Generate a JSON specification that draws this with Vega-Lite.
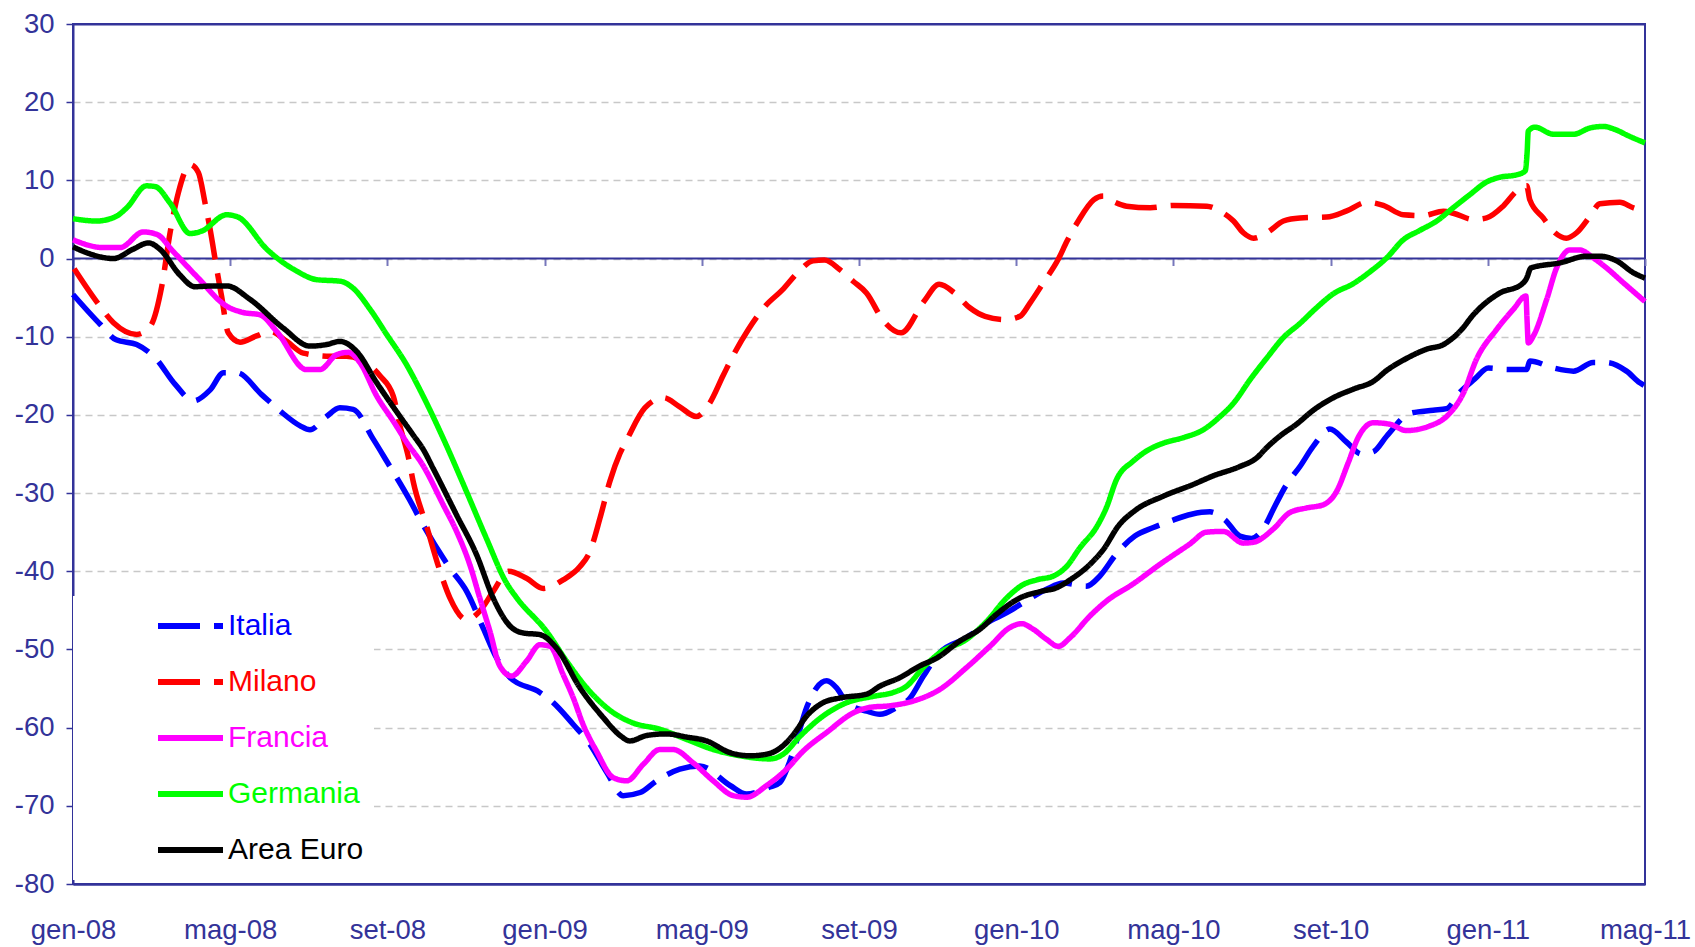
{
"$schema": "https://vega.github.io/schema/vega-lite/v6.json",
"width": 1572,
"height": 860,
"autosize": "none",
"padding": {"left": 73, "top": 24, "right": 50, "bottom": 63},
"background": "white",
"config": {"view": {"stroke": "#333399", "strokeWidth": 2}, "font": "Liberation Sans"},
"data": {"values": [
{"serie":"Italia","mese":0,"valore":-4.6},{"serie":"Italia","mese":0.69,"valore":-8.4},{"serie":"Italia","mese":1.1,"valore":-10.4},{"serie":"Italia","mese":1.62,"valore":-11},{"serie":"Italia","mese":2.09,"valore":-12.7},{"serie":"Italia","mese":2.6,"valore":-16.1},{"serie":"Italia","mese":3.06,"valore":-18.2},{"serie":"Italia","mese":3.49,"valore":-16.8},{"serie":"Italia","mese":3.83,"valore":-14.6},{"serie":"Italia","mese":4.17,"valore":-14.6},{"serie":"Italia","mese":4.8,"valore":-17.4},{"serie":"Italia","mese":5.27,"valore":-19.5},{"serie":"Italia","mese":5.78,"valore":-21.4},{"serie":"Italia","mese":6.03,"valore":-21.9},{"serie":"Italia","mese":6.45,"valore":-20.2},{"serie":"Italia","mese":6.79,"valore":-19.1},{"serie":"Italia","mese":7.13,"valore":-19.3},{"serie":"Italia","mese":7.64,"valore":-23.1},{"serie":"Italia","mese":7.98,"valore":-25.9},{"serie":"Italia","mese":8.57,"valore":-30.9},{"serie":"Italia","mese":8.91,"valore":-34.1},{"serie":"Italia","mese":9.59,"valore":-39.6},{"serie":"Italia","mese":10.02,"valore":-42.6},{"serie":"Italia","mese":10.44,"valore":-47.3},{"serie":"Italia","mese":10.78,"valore":-51.1},{"serie":"Italia","mese":11.12,"valore":-53.6},{"serie":"Italia","mese":11.88,"valore":-55.5},{"serie":"Italia","mese":12.22,"valore":-56.8},{"serie":"Italia","mese":12.73,"valore":-59.6},{"serie":"Italia","mese":13.15,"valore":-62.1},{"serie":"Italia","mese":13.58,"valore":-65.7},{"serie":"Italia","mese":14,"valore":-68.7},{"serie":"Italia","mese":14.43,"valore":-68.3},{"serie":"Italia","mese":14.85,"valore":-66.8},{"serie":"Italia","mese":15.44,"valore":-65.3},{"serie":"Italia","mese":15.95,"valore":-64.9},{"serie":"Italia","mese":16.72,"valore":-67.4},{"serie":"Italia","mese":17.14,"valore":-68.5},{"serie":"Italia","mese":17.73,"valore":-67.6},{"serie":"Italia","mese":17.99,"valore":-67},{"serie":"Italia","mese":18.33,"valore":-63},{"serie":"Italia","mese":18.67,"valore":-57.4},{"serie":"Italia","mese":18.92,"valore":-54.9},{"serie":"Italia","mese":19.18,"valore":-54},{"serie":"Italia","mese":19.43,"valore":-54.9},{"serie":"Italia","mese":19.69,"valore":-56.8},{"serie":"Italia","mese":20.2,"valore":-57.9},{"serie":"Italia","mese":20.53,"valore":-58.3},{"serie":"Italia","mese":20.96,"valore":-57.4},{"serie":"Italia","mese":21.3,"valore":-56.2},{"serie":"Italia","mese":21.64,"valore":-53.4},{"serie":"Italia","mese":22.06,"valore":-50.4},{"serie":"Italia","mese":22.74,"valore":-48.5},{"serie":"Italia","mese":23.25,"valore":-46.6},{"serie":"Italia","mese":23.76,"valore":-45.3},{"serie":"Italia","mese":24.18,"valore":-44},{"serie":"Italia","mese":24.77,"valore":-42.3},{"serie":"Italia","mese":25.2,"valore":-41.5},{"serie":"Italia","mese":25.79,"valore":-41.9},{"serie":"Italia","mese":26.13,"valore":-40.6},{"serie":"Italia","mese":26.56,"valore":-37.7},{"serie":"Italia","mese":27.02,"valore":-35.5},{"serie":"Italia","mese":27.49,"valore":-34.4},{"serie":"Italia","mese":27.91,"valore":-33.6},{"serie":"Italia","mese":28.46,"valore":-32.7},{"serie":"Italia","mese":28.93,"valore":-32.4},{"serie":"Italia","mese":29.31,"valore":-33.4},{"serie":"Italia","mese":29.69,"valore":-35.5},{"serie":"Italia","mese":29.99,"valore":-35.8},{"serie":"Italia","mese":30.33,"valore":-34.2},{"serie":"Italia","mese":30.54,"valore":-32.1},{"serie":"Italia","mese":30.88,"valore":-28.9},{"serie":"Italia","mese":31.22,"valore":-26.6},{"serie":"Italia","mese":31.56,"valore":-24},{"serie":"Italia","mese":31.98,"valore":-21.8},{"serie":"Italia","mese":32.41,"valore":-23.5},{"serie":"Italia","mese":32.79,"valore":-25},{"serie":"Italia","mese":33.09,"valore":-24.7},{"serie":"Italia","mese":33.43,"valore":-22.7},{"serie":"Italia","mese":34.02,"valore":-19.8},{"serie":"Italia","mese":34.61,"valore":-19.4},{"serie":"Italia","mese":34.95,"valore":-19.2},{"serie":"Italia","mese":35.29,"valore":-17.1},{"serie":"Italia","mese":35.67,"valore":-15.4},{"serie":"Italia","mese":36.01,"valore":-14},{"serie":"Italia","mese":36.5,"valore":-14.2},{"serie":"Italia","mese":36.99,"valore":-14.2},{"serie":"Italia","mese":37.07,"valore":-13.1},{"serie":"Italia","mese":37.67,"valore":-14},{"serie":"Italia","mese":38.18,"valore":-14.4},{"serie":"Italia","mese":38.68,"valore":-13.3},{"serie":"Italia","mese":39.02,"valore":-13.3},{"serie":"Italia","mese":39.53,"valore":-14.4},{"serie":"Italia","mese":39.87,"valore":-15.9},{"serie":"Italia","mese":40,"valore":-16.3},
{"serie":"Milano","mese":0.03,"valore":-1.3},{"serie":"Milano","mese":0.6,"valore":-5.5},{"serie":"Milano","mese":1.03,"valore":-8.2},{"serie":"Milano","mese":1.62,"valore":-9.7},{"serie":"Milano","mese":1.96,"valore":-8.7},{"serie":"Milano","mese":2.26,"valore":-3.5},{"serie":"Milano","mese":2.47,"valore":3.3},{"serie":"Milano","mese":2.68,"valore":8.4},{"serie":"Milano","mese":2.98,"valore":12},{"serie":"Milano","mese":3.19,"valore":11},{"serie":"Milano","mese":3.36,"valore":7.1},{"serie":"Milano","mese":3.49,"valore":3.7},{"serie":"Milano","mese":3.66,"valore":-1.4},{"serie":"Milano","mese":3.78,"valore":-4.8},{"serie":"Milano","mese":3.95,"valore":-9.5},{"serie":"Milano","mese":4.25,"valore":-10.7},{"serie":"Milano","mese":4.67,"valore":-9.9},{"serie":"Milano","mese":5.01,"valore":-9.3},{"serie":"Milano","mese":5.44,"valore":-10.6},{"serie":"Milano","mese":5.86,"valore":-12.1},{"serie":"Milano","mese":6.54,"valore":-12.5},{"serie":"Milano","mese":6.96,"valore":-12.5},{"serie":"Milano","mese":7.3,"valore":-12.9},{"serie":"Milano","mese":7.81,"valore":-15},{"serie":"Milano","mese":8.15,"valore":-17.6},{"serie":"Milano","mese":8.32,"valore":-21.4},{"serie":"Milano","mese":8.53,"valore":-25.3},{"serie":"Milano","mese":8.66,"valore":-28.6},{"serie":"Milano","mese":8.99,"valore":-34.1},{"serie":"Milano","mese":9.34,"valore":-40},{"serie":"Milano","mese":9.59,"valore":-43.4},{"serie":"Milano","mese":10.02,"valore":-46.2},{"serie":"Milano","mese":10.35,"valore":-45.1},{"serie":"Milano","mese":10.69,"valore":-42.6},{"serie":"Milano","mese":11.08,"valore":-40},{"serie":"Milano","mese":11.54,"valore":-40.9},{"serie":"Milano","mese":11.97,"valore":-42.2},{"serie":"Milano","mese":12.47,"valore":-41.1},{"serie":"Milano","mese":12.9,"valore":-39.4},{"serie":"Milano","mese":13.15,"valore":-37.5},{"serie":"Milano","mese":13.41,"valore":-33.2},{"serie":"Milano","mese":13.66,"valore":-28.5},{"serie":"Milano","mese":13.92,"valore":-24.9},{"serie":"Milano","mese":14.1,"valore":-23.1},{"serie":"Milano","mese":14.55,"valore":-19.1},{"serie":"Milano","mese":15.03,"valore":-17.8},{"serie":"Milano","mese":15.42,"valore":-18.9},{"serie":"Milano","mese":15.86,"valore":-20.2},{"serie":"Milano","mese":16.2,"valore":-18.5},{"serie":"Milano","mese":16.54,"valore":-15},{"serie":"Milano","mese":16.83,"valore":-12.1},{"serie":"Milano","mese":17.18,"valore":-9.1},{"serie":"Milano","mese":17.61,"valore":-6.1},{"serie":"Milano","mese":18.05,"valore":-4},{"serie":"Milano","mese":18.44,"valore":-1.8},{"serie":"Milano","mese":18.83,"valore":-0.3},{"serie":"Milano","mese":19.12,"valore":-0.2},{"serie":"Milano","mese":19.51,"valore":-1.4},{"serie":"Milano","mese":19.85,"valore":-2.9},{"serie":"Milano","mese":20.19,"valore":-4.4},{"serie":"Milano","mese":20.63,"valore":-8},{"serie":"Milano","mese":21.07,"valore":-9.5},{"serie":"Milano","mese":21.65,"valore":-5.5},{"serie":"Milano","mese":22.04,"valore":-3.3},{"serie":"Milano","mese":22.43,"valore":-4.4},{"serie":"Milano","mese":22.82,"valore":-6.3},{"serie":"Milano","mese":23.21,"valore":-7.4},{"serie":"Milano","mese":23.7,"valore":-7.8},{"serie":"Milano","mese":24.09,"valore":-7.4},{"serie":"Milano","mese":24.35,"valore":-5.7},{"serie":"Milano","mese":24.69,"valore":-3.1},{"serie":"Milano","mese":25.07,"valore":-0.1},{"serie":"Milano","mese":25.29,"valore":2.2},{"serie":"Milano","mese":25.58,"valore":4.8},{"serie":"Milano","mese":25.97,"valore":7.5},{"serie":"Milano","mese":26.22,"valore":8},{"serie":"Milano","mese":26.47,"valore":7.3},{"serie":"Milano","mese":26.81,"valore":6.7},{"serie":"Milano","mese":27.41,"valore":6.5},{"serie":"Milano","mese":28,"valore":6.8},{"serie":"Milano","mese":28.85,"valore":6.7},{"serie":"Milano","mese":29.19,"valore":6.05},{"serie":"Milano","mese":29.53,"valore":4.8},{"serie":"Milano","mese":29.78,"valore":3.3},{"serie":"Milano","mese":30.04,"valore":2.6},{"serie":"Milano","mese":30.38,"valore":3.3},{"serie":"Milano","mese":30.8,"valore":4.8},{"serie":"Milano","mese":31.22,"valore":5.2},{"serie":"Milano","mese":31.9,"valore":5.3},{"serie":"Milano","mese":32.41,"valore":6.1},{"serie":"Milano","mese":32.92,"valore":7.2},{"serie":"Milano","mese":33.34,"valore":6.8},{"serie":"Milano","mese":33.85,"valore":5.6},{"serie":"Milano","mese":34.36,"valore":5.5},{"serie":"Milano","mese":34.87,"valore":6.05},{"serie":"Milano","mese":35.12,"valore":5.8},{"serie":"Milano","mese":35.63,"valore":5},{"serie":"Milano","mese":35.97,"valore":5.2},{"serie":"Milano","mese":36.39,"valore":6.7},{"serie":"Milano","mese":36.73,"valore":8.6},{"serie":"Milano","mese":36.99,"valore":9.3},{"serie":"Milano","mese":37.07,"valore":7.5},{"serie":"Milano","mese":37.41,"valore":5.2},{"serie":"Milano","mese":37.71,"valore":3.3},{"serie":"Milano","mese":38,"valore":2.6},{"serie":"Milano","mese":38.26,"valore":3.3},{"serie":"Milano","mese":38.6,"valore":5.4},{"serie":"Milano","mese":38.85,"valore":7},{"serie":"Milano","mese":39.36,"valore":7.2},{"serie":"Milano","mese":39.7,"valore":6.5},{"serie":"Milano","mese":40,"valore":6.05},
{"serie":"Francia","mese":0,"valore":2.4},{"serie":"Francia","mese":0.77,"valore":1.4},{"serie":"Francia","mese":1.2,"valore":1.4},{"serie":"Francia","mese":1.79,"valore":3.4},{"serie":"Francia","mese":2.13,"valore":3.1},{"serie":"Francia","mese":2.55,"valore":0.9},{"serie":"Francia","mese":3.15,"valore":-2.3},{"serie":"Francia","mese":3.91,"valore":-6.1},{"serie":"Francia","mese":4.33,"valore":-6.9},{"serie":"Francia","mese":4.76,"valore":-7.2},{"serie":"Francia","mese":5.18,"valore":-9.3},{"serie":"Francia","mese":5.94,"valore":-14.2},{"serie":"Francia","mese":6.28,"valore":-14.2},{"serie":"Francia","mese":6.71,"valore":-12.3},{"serie":"Francia","mese":7,"valore":-12},{"serie":"Francia","mese":7.3,"valore":-13.3},{"serie":"Francia","mese":7.73,"valore":-17.6},{"serie":"Francia","mese":8.15,"valore":-20.8},{"serie":"Francia","mese":8.49,"valore":-23.5},{"serie":"Francia","mese":8.91,"valore":-26.5},{"serie":"Francia","mese":9.42,"valore":-31.5},{"serie":"Francia","mese":9.76,"valore":-34.9},{"serie":"Francia","mese":10.1,"valore":-39.2},{"serie":"Francia","mese":10.35,"valore":-43.4},{"serie":"Francia","mese":10.61,"valore":-47.7},{"serie":"Francia","mese":10.86,"valore":-52.1},{"serie":"Francia","mese":11.16,"valore":-53.4},{"serie":"Francia","mese":11.54,"valore":-51.5},{"serie":"Francia","mese":11.88,"valore":-49.4},{"serie":"Francia","mese":12.14,"valore":-49.6},{"serie":"Francia","mese":12.47,"valore":-53.2},{"serie":"Francia","mese":12.73,"valore":-56.2},{"serie":"Francia","mese":12.98,"valore":-59.6},{"serie":"Francia","mese":13.32,"valore":-63},{"serie":"Francia","mese":13.75,"valore":-66.4},{"serie":"Francia","mese":14.09,"valore":-66.8},{"serie":"Francia","mese":14.51,"valore":-64.7},{"serie":"Francia","mese":14.93,"valore":-62.8},{"serie":"Francia","mese":15.27,"valore":-62.8},{"serie":"Francia","mese":15.78,"valore":-64.5},{"serie":"Francia","mese":16.29,"valore":-66.8},{"serie":"Francia","mese":16.8,"valore":-68.7},{"serie":"Francia","mese":17.14,"valore":-68.9},{"serie":"Francia","mese":17.65,"valore":-67.4},{"serie":"Francia","mese":18.16,"valore":-65.3},{"serie":"Francia","mese":18.58,"valore":-63},{"serie":"Francia","mese":19.18,"valore":-60.6},{"serie":"Francia","mese":19.86,"valore":-58.1},{"serie":"Francia","mese":20.28,"valore":-57.4},{"serie":"Francia","mese":20.79,"valore":-57.2},{"serie":"Francia","mese":21.38,"valore":-56.6},{"serie":"Francia","mese":22.06,"valore":-55.1},{"serie":"Francia","mese":22.74,"valore":-52.3},{"serie":"Francia","mese":23.33,"valore":-49.6},{"serie":"Francia","mese":23.84,"valore":-47.2},{"serie":"Francia","mese":24.14,"valore":-46.7},{"serie":"Francia","mese":24.43,"valore":-47.4},{"serie":"Francia","mese":24.77,"valore":-48.7},{"serie":"Francia","mese":25.07,"valore":-49.6},{"serie":"Francia","mese":25.37,"valore":-48.5},{"serie":"Francia","mese":25.88,"valore":-45.7},{"serie":"Francia","mese":26.3,"valore":-43.8},{"serie":"Francia","mese":26.98,"valore":-41.6},{"serie":"Francia","mese":27.66,"valore":-39.1},{"serie":"Francia","mese":28.42,"valore":-36.5},{"serie":"Francia","mese":28.84,"valore":-35},{"serie":"Francia","mese":29.27,"valore":-34.9},{"serie":"Francia","mese":29.78,"valore":-36.4},{"serie":"Francia","mese":30.03,"valore":-36.3},{"serie":"Francia","mese":30.54,"valore":-34.6},{"serie":"Francia","mese":30.96,"valore":-32.5},{"serie":"Francia","mese":31.39,"valore":-31.9},{"serie":"Francia","mese":31.81,"valore":-31.5},{"serie":"Francia","mese":32.15,"valore":-29.8},{"serie":"Francia","mese":32.45,"valore":-26.1},{"serie":"Francia","mese":32.7,"valore":-22.9},{"serie":"Francia","mese":33.09,"valore":-21},{"serie":"Francia","mese":33.51,"valore":-21.2},{"serie":"Francia","mese":33.93,"valore":-22},{"serie":"Francia","mese":34.53,"valore":-21.4},{"serie":"Francia","mese":34.95,"valore":-20.2},{"serie":"Francia","mese":35.38,"valore":-17.2},{"serie":"Francia","mese":35.71,"valore":-12.9},{"serie":"Francia","mese":36.22,"valore":-9.1},{"serie":"Francia","mese":36.65,"valore":-6.5},{"serie":"Francia","mese":36.97,"valore":-4.8},{"serie":"Francia","mese":37,"valore":-8},{"serie":"Francia","mese":37.03,"valore":-10.8},{"serie":"Francia","mese":37.16,"valore":-9.9},{"serie":"Francia","mese":37.5,"valore":-5.2},{"serie":"Francia","mese":37.75,"valore":-1.2},{"serie":"Francia","mese":38.09,"valore":1.1},{"serie":"Francia","mese":38.34,"valore":1.1},{"serie":"Francia","mese":38.68,"valore":0.1},{"serie":"Francia","mese":39.02,"valore":-1.2},{"serie":"Francia","mese":39.45,"valore":-3.1},{"serie":"Francia","mese":40,"valore":-5.5},
{"serie":"Germania","mese":0,"valore":5.1},{"serie":"Germania","mese":0.6,"valore":4.8},{"serie":"Germania","mese":1.1,"valore":5.4},{"serie":"Germania","mese":1.37,"valore":6.5},{"serie":"Germania","mese":1.87,"valore":9.3},{"serie":"Germania","mese":2.09,"valore":9.2},{"serie":"Germania","mese":2.47,"valore":7.1},{"serie":"Germania","mese":2.98,"valore":3.2},{"serie":"Germania","mese":3.27,"valore":3.5},{"serie":"Germania","mese":3.91,"valore":5.6},{"serie":"Germania","mese":4.2,"valore":5.3},{"serie":"Germania","mese":4.93,"valore":1.2},{"serie":"Germania","mese":5.69,"valore":-1.6},{"serie":"Germania","mese":6.2,"valore":-2.7},{"serie":"Germania","mese":6.8,"valore":-2.9},{"serie":"Germania","mese":7.13,"valore":-3.8},{"serie":"Germania","mese":7.56,"valore":-6.5},{"serie":"Germania","mese":7.98,"valore":-9.7},{"serie":"Germania","mese":8.49,"valore":-13.6},{"serie":"Germania","mese":8.91,"valore":-17.6},{"serie":"Germania","mese":9.42,"valore":-23},{"serie":"Germania","mese":10.02,"valore":-29.9},{"serie":"Germania","mese":10.52,"valore":-35.8},{"serie":"Germania","mese":11.03,"valore":-41.5},{"serie":"Germania","mese":11.29,"valore":-43.4},{"serie":"Germania","mese":12.05,"valore":-47.7},{"serie":"Germania","mese":12.56,"valore":-51.5},{"serie":"Germania","mese":13.07,"valore":-54.9},{"serie":"Germania","mese":13.75,"valore":-58.1},{"serie":"Germania","mese":14.25,"valore":-59.4},{"serie":"Germania","mese":14.93,"valore":-60.2},{"serie":"Germania","mese":15.61,"valore":-61.5},{"serie":"Germania","mese":16.29,"valore":-62.8},{"serie":"Germania","mese":16.97,"valore":-63.6},{"serie":"Germania","mese":17.73,"valore":-64},{"serie":"Germania","mese":18.07,"valore":-63.4},{"serie":"Germania","mese":18.5,"valore":-61.1},{"serie":"Germania","mese":19.09,"valore":-58.5},{"serie":"Germania","mese":19.69,"valore":-56.8},{"serie":"Germania","mese":20.36,"valore":-56},{"serie":"Germania","mese":20.87,"valore":-55.5},{"serie":"Germania","mese":21.21,"valore":-54.7},{"serie":"Germania","mese":21.64,"valore":-52.3},{"serie":"Germania","mese":22.06,"valore":-50.4},{"serie":"Germania","mese":22.74,"valore":-48.7},{"serie":"Germania","mese":23.25,"valore":-46.4},{"serie":"Germania","mese":23.76,"valore":-43.4},{"serie":"Germania","mese":24.18,"valore":-41.7},{"serie":"Germania","mese":24.52,"valore":-41.1},{"serie":"Germania","mese":24.95,"valore":-40.6},{"serie":"Germania","mese":25.28,"valore":-39.4},{"serie":"Germania","mese":25.62,"valore":-37},{"serie":"Germania","mese":26.05,"valore":-34.3},{"serie":"Germania","mese":26.3,"valore":-31.8},{"serie":"Germania","mese":26.55,"valore":-28.3},{"serie":"Germania","mese":26.98,"valore":-25.9},{"serie":"Germania","mese":27.32,"valore":-24.6},{"serie":"Germania","mese":27.75,"valore":-23.6},{"serie":"Germania","mese":28.26,"valore":-22.9},{"serie":"Germania","mese":28.76,"valore":-21.9},{"serie":"Germania","mese":29.19,"valore":-20.2},{"serie":"Germania","mese":29.53,"valore":-18.5},{"serie":"Germania","mese":29.95,"valore":-15.5},{"serie":"Germania","mese":30.38,"valore":-12.7},{"serie":"Germania","mese":30.8,"valore":-10.1},{"serie":"Germania","mese":31.22,"valore":-8.3},{"serie":"Germania","mese":31.64,"valore":-6.3},{"serie":"Germania","mese":32.07,"valore":-4.5},{"serie":"Germania","mese":32.58,"valore":-3.2},{"serie":"Germania","mese":33,"valore":-1.7},{"serie":"Germania","mese":33.43,"valore":0.1},{"serie":"Germania","mese":33.85,"valore":2.4},{"serie":"Germania","mese":34.27,"valore":3.6},{"serie":"Germania","mese":34.7,"valore":4.8},{"serie":"Germania","mese":35.12,"valore":6.5},{"serie":"Germania","mese":35.55,"valore":8.2},{"serie":"Germania","mese":35.97,"valore":9.8},{"serie":"Germania","mese":36.31,"valore":10.4},{"serie":"Germania","mese":36.73,"valore":10.7},{"serie":"Germania","mese":36.95,"valore":11.2},{"serie":"Germania","mese":37,"valore":13.5},{"serie":"Germania","mese":37.03,"valore":16.3},{"serie":"Germania","mese":37.2,"valore":16.8},{"serie":"Germania","mese":37.67,"valore":15.9},{"serie":"Germania","mese":38.18,"valore":15.9},{"serie":"Germania","mese":38.6,"valore":16.7},{"serie":"Germania","mese":38.94,"valore":16.9},{"serie":"Germania","mese":39.19,"valore":16.6},{"serie":"Germania","mese":39.62,"valore":15.6},{"serie":"Germania","mese":40,"valore":14.8},
{"serie":"Area Euro","mese":0,"valore":1.5},{"serie":"Area Euro","mese":0.43,"valore":0.6},{"serie":"Area Euro","mese":1.03,"valore":0},{"serie":"Area Euro","mese":1.53,"valore":1.2},{"serie":"Area Euro","mese":1.92,"valore":2},{"serie":"Area Euro","mese":2.21,"valore":1.2},{"serie":"Area Euro","mese":2.72,"valore":-2.1},{"serie":"Area Euro","mese":3.1,"valore":-3.6},{"serie":"Area Euro","mese":3.57,"valore":-3.5},{"serie":"Area Euro","mese":3.91,"valore":-3.5},{"serie":"Area Euro","mese":4.5,"valore":-5.2},{"serie":"Area Euro","mese":5.35,"valore":-8.9},{"serie":"Area Euro","mese":6.03,"valore":-11.2},{"serie":"Area Euro","mese":6.45,"valore":-11},{"serie":"Area Euro","mese":6.79,"valore":-10.6},{"serie":"Area Euro","mese":7.22,"valore":-11.9},{"serie":"Area Euro","mese":7.73,"valore":-15.9},{"serie":"Area Euro","mese":8.32,"valore":-20.2},{"serie":"Area Euro","mese":8.66,"valore":-22.6},{"serie":"Area Euro","mese":8.91,"valore":-24.4},{"serie":"Area Euro","mese":9.17,"valore":-26.9},{"serie":"Area Euro","mese":9.76,"valore":-32.8},{"serie":"Area Euro","mese":10.27,"valore":-37.9},{"serie":"Area Euro","mese":10.69,"valore":-43.4},{"serie":"Area Euro","mese":11.12,"valore":-47},{"serie":"Area Euro","mese":11.46,"valore":-47.9},{"serie":"Area Euro","mese":11.88,"valore":-48.1},{"serie":"Area Euro","mese":12.3,"valore":-49.8},{"serie":"Area Euro","mese":12.9,"valore":-54.9},{"serie":"Area Euro","mese":13.49,"valore":-58.7},{"serie":"Area Euro","mese":13.92,"valore":-61},{"serie":"Area Euro","mese":14.17,"valore":-61.7},{"serie":"Area Euro","mese":14.6,"valore":-61},{"serie":"Area Euro","mese":15.1,"valore":-60.8},{"serie":"Area Euro","mese":15.61,"valore":-61.2},{"serie":"Area Euro","mese":16.12,"valore":-61.7},{"serie":"Area Euro","mese":16.72,"valore":-63.2},{"serie":"Area Euro","mese":17.22,"valore":-63.6},{"serie":"Area Euro","mese":17.65,"valore":-63.4},{"serie":"Area Euro","mese":18.07,"valore":-62.3},{"serie":"Area Euro","mese":18.33,"valore":-60.9},{"serie":"Area Euro","mese":18.67,"valore":-58.5},{"serie":"Area Euro","mese":19.09,"valore":-56.8},{"serie":"Area Euro","mese":19.52,"valore":-56.2},{"serie":"Area Euro","mese":20.2,"valore":-55.7},{"serie":"Area Euro","mese":20.53,"valore":-54.7},{"serie":"Area Euro","mese":21.04,"valore":-53.6},{"serie":"Area Euro","mese":21.55,"valore":-52.1},{"serie":"Area Euro","mese":21.98,"valore":-51.1},{"serie":"Area Euro","mese":22.57,"valore":-48.9},{"serie":"Area Euro","mese":23.08,"valore":-47.4},{"serie":"Area Euro","mese":23.5,"valore":-45.5},{"serie":"Area Euro","mese":24.1,"valore":-43.4},{"serie":"Area Euro","mese":24.6,"valore":-42.6},{"serie":"Area Euro","mese":25.03,"valore":-42.1},{"serie":"Area Euro","mese":25.37,"valore":-41.1},{"serie":"Area Euro","mese":25.88,"valore":-39.1},{"serie":"Area Euro","mese":26.22,"valore":-37.2},{"serie":"Area Euro","mese":26.6,"valore":-34.2},{"serie":"Area Euro","mese":27.06,"valore":-32.1},{"serie":"Area Euro","mese":27.74,"valore":-30.4},{"serie":"Area Euro","mese":28.5,"valore":-28.9},{"serie":"Area Euro","mese":29.01,"valore":-27.8},{"serie":"Area Euro","mese":29.69,"valore":-26.6},{"serie":"Area Euro","mese":30.12,"valore":-25.5},{"serie":"Area Euro","mese":30.37,"valore":-24.2},{"serie":"Area Euro","mese":30.71,"valore":-22.7},{"serie":"Area Euro","mese":31.13,"valore":-21.2},{"serie":"Area Euro","mese":31.56,"valore":-19.4},{"serie":"Area Euro","mese":32.07,"valore":-17.8},{"serie":"Area Euro","mese":32.58,"valore":-16.7},{"serie":"Area Euro","mese":33.09,"valore":-15.7},{"serie":"Area Euro","mese":33.43,"valore":-14.3},{"serie":"Area Euro","mese":33.85,"valore":-13},{"serie":"Area Euro","mese":34.44,"valore":-11.6},{"serie":"Area Euro","mese":34.87,"valore":-11},{"serie":"Area Euro","mese":35.33,"valore":-9.1},{"serie":"Area Euro","mese":35.63,"valore":-7.2},{"serie":"Area Euro","mese":36.31,"valore":-4.4},{"serie":"Area Euro","mese":36.86,"valore":-3.3},{"serie":"Area Euro","mese":36.98,"valore":-2.6},{"serie":"Area Euro","mese":37.1,"valore":-1.2},{"serie":"Area Euro","mese":37.84,"valore":-0.55},{"serie":"Area Euro","mese":38.51,"valore":0.3},{"serie":"Area Euro","mese":38.85,"valore":0.3},{"serie":"Area Euro","mese":39.28,"valore":-0.3},{"serie":"Area Euro","mese":39.7,"valore":-1.8},{"serie":"Area Euro","mese":40,"valore":-2.5}
]},
"resolve": {"axis": {"x": "independent"}},
"layer": [
{
 "mark": {"type": "rule", "stroke": "#333399", "strokeWidth": 2},
 "encoding": {
  "x": {"aggregate": "min", "field": "mese", "type": "quantitative",
        "scale": {"domain": [0, 40], "nice": false, "zero": false},
        "axis": {"orient": "bottom", "offset": -625.5, "values": [0,4,8,12,16,20,24,28,32,36,40], "labels": false, "ticks": true, "tickSize": 7, "tickColor": "#7777bb", "tickWidth": 2, "domain": false, "grid": false, "title": null}},
  "x2": {"aggregate": "max", "field": "mese"},
  "y": {"datum": 0, "type": "quantitative"}
 }
},
{
 "mark": {"type": "line", "strokeWidth": 5.5, "strokeCap": "butt", "strokeJoin": "round", "interpolate": "monotone"},
 "encoding": {
  "x": {"field": "mese", "type": "quantitative",
        "scale": {"domain": [0, 40], "nice": false, "zero": false},
        "axis": {"orient": "bottom", "values": [0,4,8,12,16,20,24,28,32,36,40],
                 "labelExpr": "['gen','mag','set'][(datum.value/4)%3] + '-' + ['08','09','10','11'][floor(datum.value/12)]",
                 "ticks": false, "grid": false, "domain": true, "domainColor": "#333399", "domainWidth": 2,
                 "labelFontSize": 27.5, "labelColor": "#333399", "labelFont": "Liberation Sans", "labelPadding": 32, "labelFlush": false, "labelOverlap": false, "title": null}},
  "y": {"field": "valore", "type": "quantitative",
        "scale": {"domain": [-80, 30], "nice": false, "zero": false},
        "axis": {"values": [-80,-70,-60,-50,-40,-30,-20,-10,0,10,20,30], "labelExpr": "'' + datum.value",
                 "labelFontSize": 27.5, "labelColor": "#333399", "labelFont": "Liberation Sans",
                 "tickColor": "#333399", "tickSize": 7, "tickWidth": 1.5, "domainColor": "#333399", "domainWidth": 2, "labelPadding": 12,
                 "grid": true,
                 "gridColor": {"condition": {"test": "datum.value == 30 || datum.value == -80", "value": "#333399"}, "value": "#c8c8c8"},
                 "gridDash": {"condition": {"test": "datum.value == 30 || datum.value == -80", "value": []}, "value": [7, 5]},
                 "gridWidth": {"condition": {"test": "datum.value == 30 || datum.value == -80", "value": 2}, "value": 1.3},
                 "title": null, "labelFlush": false, "labelOverlap": false}},
  "color": {"field": "serie", "type": "nominal",
            "scale": {"domain": ["Italia", "Milano", "Francia", "Germania", "Area Euro"], "range": ["#0000ff", "#ff0000", "#ff00ff", "#00ff00", "#000000"]},
            "legend": {"orient": "none", "legendX": 0, "legendY": 572, "title": null,
                       "symbolType": "stroke", "symbolSize": 4225, "symbolStrokeWidth": 6,
                       "labelFontSize": 30, "labelFont": "Liberation Sans",
                       "labelColor": {"expr": "scale('color', datum.value)"},
                       "fillColor": "white", "padding": 10, "symbolOffset": 72, "labelOffset": 2,
                       "clipHeight": 40, "rowPadding": 16, "labelLimit": 400}},
  "strokeDash": {"field": "serie", "type": "nominal",
                 "scale": {"domain": ["Italia", "Milano", "Francia", "Germania", "Area Euro"], "range": [[42, 14], [42, 14], [1, 0], [1, 0], [1, 0]]}}
 }
}
]
}
